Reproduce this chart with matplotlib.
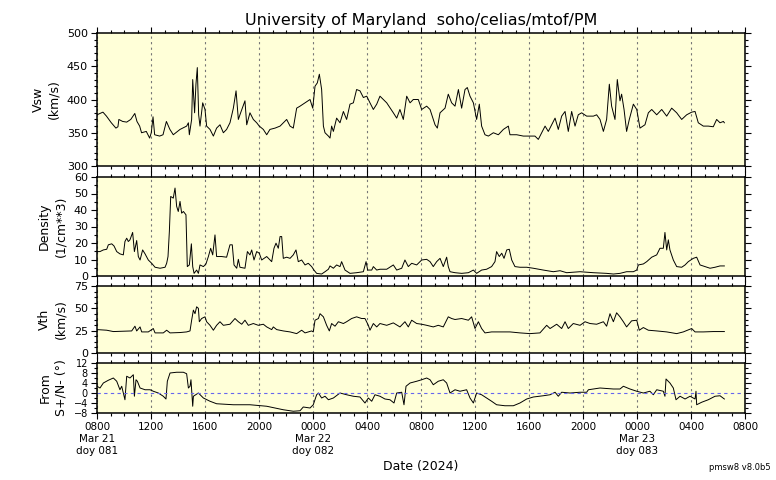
import matplotlib
matplotlib.use("Agg")
import matplotlib.pyplot as plt
from matplotlib.ticker import MultipleLocator

# ---------------- data (hours since 2024-03-21 08:00) ----------------
vsw_t = [0.00, 0.44, 0.70, 1.06, 1.40, 1.55, 1.62, 1.90, 2.20, 2.50, 2.80, 2.96, 3.16, 3.30, 3.65, 3.90,
         4.02, 4.15, 4.27, 4.64, 4.89, 5.14, 5.40, 5.65, 6.15, 6.64, 6.77, 6.84, 7.01, 7.09, 7.23, 7.33,
         7.43, 7.53, 7.63, 7.83, 8.00, 8.12, 8.37, 8.62, 8.86, 9.11, 9.36, 9.60, 9.85, 10.10, 10.30, 10.47,
         10.64, 10.96, 11.09, 11.33, 11.58, 11.83, 12.02, 12.32, 12.57, 12.81, 13.19, 13.56, 13.80, 14.05,
         14.30, 14.54, 14.79, 15.04, 15.41, 15.78, 15.98, 16.15, 16.32, 16.47, 16.64, 16.77, 16.89, 17.14,
         17.26, 17.38, 17.51, 17.75, 18.00, 18.25, 18.49, 18.74, 18.99, 19.23, 19.48, 19.73, 19.98, 20.22,
         20.47, 20.72, 20.96, 21.46, 21.95, 22.20, 22.44, 22.69, 22.94, 23.19, 23.43, 23.80, 24.05, 24.42,
         24.67, 25.04, 25.21, 25.41, 25.78, 26.02, 26.27, 26.52, 26.77, 27.01, 27.26, 27.43, 27.63, 27.88,
         28.12, 28.32, 28.49, 28.74, 28.99, 29.36, 29.73, 30.10, 30.47, 30.59, 31.09, 31.58, 32.07, 32.44,
         32.69, 32.94, 33.19, 33.43, 33.68, 33.93, 34.17, 34.42, 34.67, 34.91, 35.16, 35.41, 35.65, 35.90,
         36.27, 36.77, 37.01, 37.26, 37.51, 37.75, 37.95, 38.12, 38.37, 38.54, 38.74, 38.86, 39.04, 39.23,
         39.43, 39.73, 39.98, 40.22, 40.59, 40.84, 41.09, 41.46, 41.83, 42.20, 42.57, 42.94, 43.31, 43.68,
         44.05, 44.30, 44.54, 44.91, 45.28, 45.65, 45.90, 46.15, 46.40, 46.47]
vsw_v = [377, 381, 375, 365, 357, 359, 370, 367, 366, 370, 379, 367, 360, 350, 352, 342,
         350, 374, 347, 345, 347, 367, 355, 347, 355, 360, 365, 347, 370, 430, 380, 423,
         448, 377, 360, 395, 385, 360, 355, 345, 357, 362, 350, 355, 365, 387, 413, 370,
         380, 398, 362, 380, 370, 365, 360, 355, 347, 355, 357, 360, 365, 370,
         360, 357, 387, 390, 395, 400, 387, 420, 425, 438, 415, 360, 350, 345,
         342, 360, 352, 372, 365, 382, 370, 393, 395, 415, 413, 403, 405, 395,
         385, 393, 405, 395, 380, 372, 385, 370, 405, 395, 400, 400, 385, 390,
         385, 362, 357, 380, 387, 408, 395, 390, 415, 387, 415, 418, 405, 395,
         370, 393, 360, 347, 345, 350, 347, 355, 360, 347, 347, 345, 345, 345,
         340, 350, 360, 352, 362, 372, 355, 375, 382, 352, 382, 360, 377, 380,
         375, 375, 377, 370, 352, 370, 423, 390, 370, 430, 398, 408, 385, 352,
         370, 393, 385, 357, 362, 380, 385, 377, 385, 375, 387, 380, 370, 377,
         381, 382, 365, 360, 360, 359, 370, 365, 367, 365]

den_t = [0.00, 0.22, 0.47, 0.72, 0.84, 1.09, 1.26, 1.46, 1.70, 1.95, 2.07, 2.20, 2.32, 2.44, 2.64, 2.77,
         2.94, 3.06, 3.19, 3.38, 3.56, 3.80, 4.05, 4.30, 4.67, 5.04, 5.16, 5.26, 5.36, 5.46, 5.65, 5.78,
         5.90, 6.02, 6.15, 6.27, 6.40, 6.59, 6.69, 6.84, 6.99, 7.09, 7.19, 7.38, 7.51, 7.63, 7.88, 8.07,
         8.25, 8.42, 8.57, 8.74, 8.86, 9.23, 9.60, 9.85, 10.02, 10.15, 10.35, 10.47, 10.59, 10.96, 11.14,
         11.33, 11.46, 11.63, 11.83, 12.02, 12.20, 12.57, 12.94, 13.11, 13.26, 13.43, 13.56, 13.68, 13.80,
         14.05, 14.30, 14.54, 14.74, 14.91, 15.16, 15.41, 15.65, 15.90, 16.07, 16.27, 16.64, 16.89, 17.14,
         17.26, 17.51, 17.75, 18.00, 18.12, 18.37, 18.74, 19.23, 19.73, 19.93, 20.05, 20.35, 20.47, 20.72,
         20.96, 21.46, 21.95, 22.20, 22.57, 22.81, 23.06, 23.31, 23.68, 24.05, 24.42, 24.67, 24.91, 25.16,
         25.41, 25.65, 25.90, 26.02, 26.15, 26.52, 27.01, 27.51, 27.88, 28.12, 28.49, 28.86, 29.23, 29.48,
         29.60, 29.80, 29.98, 30.15, 30.35, 30.54, 30.72, 30.96, 31.33, 31.83, 32.32, 33.06, 33.80, 34.30,
         34.79, 35.78, 36.77, 37.75, 38.25, 38.74, 39.23, 39.73, 39.98, 40.10, 40.47, 40.72, 41.09, 41.46,
         41.70, 41.95, 42.07, 42.20, 42.32, 42.44, 42.69, 42.94, 43.31, 43.56, 43.80, 44.17, 44.42, 44.67,
         45.04, 45.41, 45.78, 46.15, 46.47]
den_v = [14.8, 14.8, 15.8, 16.2, 18.9, 19.5, 18.2, 14.8, 13.4, 12.8, 20.9, 22.9, 20.9, 21.9, 26.4, 14.8,
         21.5, 11.8, 9.7, 15.8, 13.4, 9.7, 7.7, 5.3, 4.7, 5.3, 7.7, 11.8, 27.0, 48.2, 47.2, 53.3,
         42.2, 39.1, 45.2, 38.1, 39.1, 37.1, 5.7, 6.7, 19.5, 5.7, 1.6, 3.6, 1.6, 6.7, 5.7, 7.3,
         11.8, 16.8, 12.8, 24.9, 11.8, 11.8, 11.4, 18.9, 18.9, 6.7, 4.7, 10.1, 5.3, 4.7, 14.8,
         12.8, 15.8, 9.7, 14.8, 13.8, 9.7, 11.8, 8.7, 16.8, 19.9, 16.8, 23.9, 23.9, 10.7,
         11.4, 10.7, 12.8, 15.8, 8.7, 9.7, 6.7, 7.7, 5.7, 3.6, 1.6, 1.2, 2.6, 4.1,
         6.1, 4.7, 6.7, 5.7, 8.7, 3.6, 1.6, 2.0, 2.6, 8.7, 3.6, 3.6, 5.7, 3.6,
         4.1, 4.1, 6.7, 3.6, 4.7, 9.7, 5.7, 7.7, 6.7, 9.7, 10.1, 8.7, 5.7, 8.7,
         10.7, 5.7, 11.4, 5.7, 2.6, 2.0, 1.6, 2.0, 3.6, 1.6, 3.6, 4.1, 5.7, 8.7,
         14.8, 11.8, 13.8, 10.7, 15.8, 16.2, 9.7, 5.7, 5.3, 5.3, 4.7, 3.6, 2.6, 3.2,
         2.0, 2.6, 2.0, 1.6, 1.2, 1.6, 2.6, 2.6, 3.6, 6.7, 7.3, 8.7, 11.4, 12.8,
         16.8, 16.8, 26.4, 15.8, 21.9, 15.8, 9.7, 5.7, 5.3, 6.7, 8.7, 10.7, 11.4, 6.7,
         5.7, 4.7, 5.3, 6.1, 6.1]

vth_t = [0.00, 0.72, 1.21, 1.95, 2.57, 2.81, 2.94, 3.19, 3.31, 3.80, 4.17, 4.30, 4.91, 5.16, 5.41, 6.15,
         6.64, 6.89, 7.01, 7.14, 7.26, 7.38, 7.51, 7.58, 7.75, 8.00, 8.12, 8.37, 8.62, 8.86, 9.11, 9.36,
         9.85, 10.22, 10.47, 10.72, 10.96, 11.21, 11.58, 11.95, 12.32, 12.57, 12.94, 13.06, 13.31, 13.80,
         14.30, 14.79, 15.16, 15.41, 15.90, 16.02, 16.15, 16.40, 16.52, 16.77, 17.01, 17.21, 17.38, 17.63,
         17.88, 18.25, 18.49, 18.86, 19.23, 19.60, 19.85, 20.10, 20.22, 20.47, 20.72,
         20.96, 21.46, 21.95, 22.44, 22.81, 23.06, 23.31, 23.68, 24.05, 24.42, 24.91, 25.28, 25.65, 26.02,
         26.27, 26.52, 27.01, 27.51, 27.75, 28.00, 28.25, 28.49, 28.74, 29.23, 29.85, 30.59, 31.33, 32.07,
         32.81, 33.31, 33.56, 34.05, 34.42, 34.67, 34.91, 35.28, 35.78, 36.15, 36.52, 37.01, 37.51, 37.75,
         38.00, 38.25, 38.49, 38.74, 38.99, 39.23, 39.60, 39.98, 40.17, 40.47, 40.84, 41.46, 42.20, 42.94,
         43.43, 44.05, 44.30, 44.91, 45.65, 46.47]
vth_v = [26.2, 25.5, 24.0, 24.4, 24.7, 30.0, 24.7, 29.2, 23.6, 23.6, 27.4, 22.5, 22.5, 25.5, 22.5, 22.9,
         23.6, 24.7, 36.7, 48.0, 44.0, 51.7, 50.0, 35.0, 38.6, 40.5, 35.0, 31.0, 25.5, 31.0, 35.0, 31.0,
         32.2, 38.6, 35.0, 32.2, 36.7, 31.0, 33.0, 31.0, 32.2, 29.2, 26.2, 29.2, 26.2, 24.7,
         23.6, 21.7, 25.5, 22.5, 24.7, 23.6, 36.7, 38.6, 44.0, 40.5, 31.0, 24.7, 33.0, 30.0,
         35.0, 33.0, 35.0, 38.6, 40.5, 38.6, 38.6, 31.0, 25.5, 33.0, 29.2,
         33.0, 31.0, 33.7, 29.2, 35.0, 29.2, 36.7, 33.0, 32.2, 31.0, 29.2, 31.0, 29.2, 40.5,
         38.6, 37.5, 38.6, 36.7, 40.5, 27.4, 35.0, 27.4, 22.5, 23.6, 23.6, 23.6, 22.5, 21.7,
         22.5, 31.0, 27.4, 32.2, 27.4, 35.0, 27.4, 33.0, 31.0, 35.0, 33.0, 32.2, 35.0, 30.0,
         44.0, 35.0, 45.0, 40.5, 35.0, 29.2, 36.0, 36.7, 25.5, 28.5, 25.5, 24.7, 23.6, 21.7,
         23.6, 27.4, 23.6, 23.6, 24.0, 24.0]

ang_t = [0.00, 0.22, 0.47, 0.84, 1.21, 1.46, 1.70, 1.83, 2.07, 2.20, 2.44, 2.57, 2.69, 2.77, 2.89, 2.99,
         3.19, 3.56, 3.93, 4.17, 4.54, 4.91, 5.11, 5.21, 5.41, 5.90, 6.40, 6.64, 6.77, 6.89, 6.96, 7.09,
         7.14, 7.51, 7.88, 8.37, 8.86, 10.10, 11.33, 12.57, 13.80, 14.54, 15.04, 15.28, 15.78, 16.02,
         16.27, 16.40, 16.64, 16.89, 17.14, 17.51, 18.00, 18.49, 18.99, 19.48, 19.85, 20.10, 20.35, 20.59,
         20.96, 21.33, 21.70, 22.00, 22.20, 22.57, 22.74, 22.89, 23.19, 23.68, 24.05, 24.42, 24.67, 24.91,
         25.28, 25.65, 25.90, 26.15, 26.52, 26.89, 27.38, 27.63, 27.88, 28.12, 28.49, 28.86, 29.23, 29.60,
         30.22, 30.84, 31.33, 31.83, 32.32, 33.06, 33.56, 33.93, 34.17, 34.42, 35.04, 35.78, 36.27, 36.40,
         37.26, 38.25, 38.74, 38.99, 39.48, 39.98, 40.47, 40.96, 41.21, 41.46, 41.95, 42.07, 42.15, 42.44,
         42.69, 42.89, 43.19, 43.56, 43.93, 44.30, 44.37, 44.42, 44.79, 45.28, 45.78, 46.15, 46.47]
ang_v = [2.7, 2.0, 4.0, 5.1, 6.0, 4.7, 1.3, 2.7, -2.7, 6.7, 6.0, 6.7, 7.3, -1.3, 5.3, 4.7,
         2.0, 1.3, 1.3, 0.7, 0.0, -1.3, -2.4, 4.7, 8.0, 8.3, 8.3, 7.7, 2.0, 2.7, 5.3, -5.3,
         -1.3, 0.0, -2.0, -3.3, -4.3, -4.7, -4.7, -5.3, -6.7, -7.3, -7.1, -5.6, -6.0, -4.7,
         -0.7, 0.0, -2.0, -1.3, -2.7, -2.0, 0.0, -0.7, -1.3, -1.6, -4.0, -2.0, -3.3, -0.7,
         -1.3, -2.4, -2.7, -4.0, 0.0, 0.3, -4.7, 2.7, 4.0, 4.7, 5.3, 6.0, 5.3, 3.3,
         4.7, 5.3, 4.0, 0.0, 1.3, 0.7, 1.3, -2.0, -4.0, 0.0, -0.7, -2.0, -3.3, -4.7,
         -5.1, -5.1, -4.0, -2.4, -1.6, -1.1, -0.7, 0.3, -1.3, 0.3, 0.0, 0.3, 0.3, 1.3,
         2.0, 1.6, 1.6, 2.7, 1.6, 0.7, 0.0, 0.7, -0.7, 1.3, 0.7, -1.3, 5.6, 4.0,
         2.0, -2.7, -1.3, -2.4, -1.3, -2.4, 0.7, -4.7, -3.7, -2.7, -1.3, -1.1, -2.4]

xtick_pos = [0, 4, 8, 12, 16, 20, 24, 28, 32, 36, 40, 44, 48]
xtick_labels = ["0800\nMar 21\ndoy 081", "1200", "1600", "2000", "0000\nMar 22\ndoy 082", "0400", "0800",
                "1200", "1600", "2000", "0000\nMar 23\ndoy 083", "0400", "0800"]

panels = [
    dict(t=vsw_t, v=vsw_v, ylim=(300, 500), major=50, minor=10, label="Vsw\n(km/s)", tfs=8, lx=-0.056),
    dict(t=den_t, v=den_v, ylim=(0, 60), major=10, minor=5, label="Density\n(1/cm**3)", tfs=8, lx=-0.046),
    dict(t=vth_t, v=vth_v, ylim=(0, 75), major=25, minor=6.25, label="Vth\n(km/s)", tfs=8, lx=-0.046),
    dict(t=ang_t, v=ang_v, ylim=(-8, 12), major=4, minor=2, label="From\nS+/N- (°)", tfs=7, lx=-0.045),
]

# --------------- figure ---------------
W, H = 776, 480
fig = plt.figure(figsize=(W / 100, H / 100), dpi=100)
fig.patch.set_facecolor("white")
boxes = [(33, 166), (177, 276), (286, 353), (363, 413)]
left, right = 97, 745
bg = "#ffffd8"

axes = []
for p, (ytop, ybot) in zip(panels, boxes):
    ax = fig.add_axes([left / W, 1 - ybot / H, (right - left) / W, (ybot - ytop) / H])
    ax.set_facecolor(bg)
    ax.plot(p["t"], p["v"], color="black", lw=0.7)
    ax.set_xlim(0, 48)
    ax.set_ylim(*p["ylim"])
    ax.set_xticks(xtick_pos)
    ax.xaxis.set_minor_locator(MultipleLocator(1))
    ax.yaxis.set_major_locator(MultipleLocator(p["major"]))
    ax.yaxis.set_minor_locator(MultipleLocator(p["minor"]))
    ax.tick_params(axis="both", which="both", direction="out", top=True, right=True, labelsize=p["tfs"])
    ax.tick_params(axis="both", which="major", length=4, width=0.8, pad=2.5)
    ax.tick_params(axis="both", which="minor", length=2.5, width=0.8)
    ax.grid(axis="x", which="major", color="#777777", linestyle=(0, (2, 3)), linewidth=0.8)
    for s in ax.spines.values():
        s.set_linewidth(1.1)
    ax.set_ylabel(p["label"], fontsize=9, linespacing=1.3)
    ax.yaxis.set_label_coords(p["lx"], 0.5)
    axes.append(ax)

for ax in axes[:-1]:
    ax.tick_params(axis="x", labelbottom=False)

axes[-1].axhline(0, color="#6666ee", linestyle=(0, (3, 3)), linewidth=0.8)
axes[-1].set_xticklabels(xtick_labels, fontsize=7.5, linespacing=1.25)
axes[-1].set_xlabel("Date (2024)", fontsize=9, labelpad=3)

fig.text(421 / W, 1 - 20 / H, "University of Maryland  soho/celias/mtof/PM", ha="center", va="center", fontsize=11.5)
fig.text(771 / W, 1 - 467 / H, "pmsw8 v8.0b5", ha="right", va="center", fontsize=6)

fig.savefig("out.png", dpi=100, facecolor="white")
